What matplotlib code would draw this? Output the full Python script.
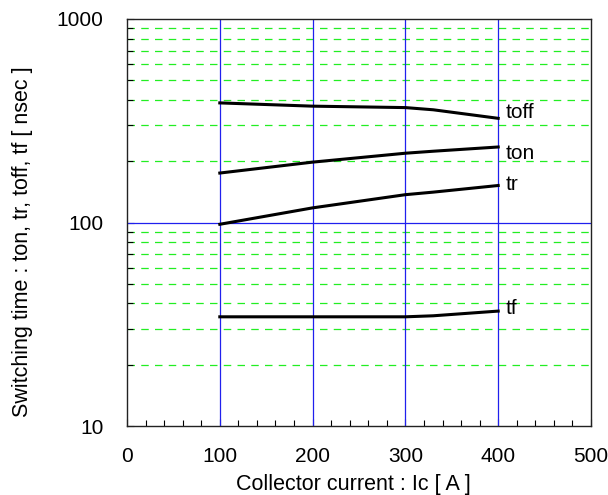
import numpy as np
import matplotlib.pyplot as plt
from matplotlib.ticker import FixedLocator, NullFormatter

plt.rcParams['font.family'] = ['Liberation Sans', 'DejaVu Sans']

# collector current [A]
ic = [100, 200, 300, 330, 400]
# switching times [nsec]
toff = [387, 373, 367, 358, 325]
ton  = [175, 198, 219, 224, 235]
tr   = [98, 118, 137, 141, 152]
tf   = [34.4, 34.4, 34.4, 34.8, 36.7]

curve_names = ["toff", "ton", "tr", "tf"]
# baseline of each curve name
label_vals  = [328, 204, 144, 35.6]

FS = 15

fig = plt.figure(figsize=(6.08, 4.95), dpi=100)
ax = fig.add_axes([127/608, 1 - 426/495, 464/608, 407/495])

ax.set_yscale("log")
ax.set_xlim(0, 500)
ax.set_ylim(10, 1000)

# grid
minor_vals = [v * d for d in (10, 100) for v in range(2, 10)]
for v in minor_vals:
    ax.axhline(v, color="#22ee22", lw=0.9, ls=(0, (6, 5)), zorder=1)
ax.axhline(100, color="#2020ee", lw=0.9, zorder=2)
for x in [100, 200, 300, 400]:
    ax.axvline(x, color="#2020ee", lw=0.9, zorder=2)

for name, vals, lv in zip(curve_names, [toff, ton, tr, tf], label_vals):
    ax.plot(ic, vals, color="black", lw=2.2, zorder=3)
    ax.text(408.5, lv, name, fontsize=FS, va="baseline", ha="left", zorder=4)

ax.xaxis.set_major_locator(FixedLocator([0, 100, 200, 300, 400, 500]))
ax.xaxis.set_minor_locator(FixedLocator(np.arange(0, 501, 20)))
ax.yaxis.set_major_locator(FixedLocator([10, 100, 1000]))
ax.yaxis.set_minor_locator(FixedLocator(minor_vals))
ax.yaxis.set_minor_formatter(NullFormatter())
ax.set_yticklabels(["10", "100", "1000"])

ax.tick_params(which="both", direction="in", labelsize=FS, width=0.8)
ax.tick_params(which="major", length=5)
ax.tick_params(which="minor", length=4)
ax.tick_params(axis="x", which="major", pad=15)
ax.tick_params(axis="y", which="major", pad=17)

for s in ax.spines.values():
    s.set_linewidth(1.0)
    s.set_color("#222222")

ax.set_xlabel("Collector current : Ic [ A ]", fontsize=15.5)
ax.xaxis.set_label_coords(0.487, -0.117)
ax.set_ylabel("Switching time : ton, tr, toff, tf [ nsec ]", fontsize=15.5)
ax.yaxis.set_label_coords(-0.202, 0.452)

fig.savefig("out.png", dpi=100)
